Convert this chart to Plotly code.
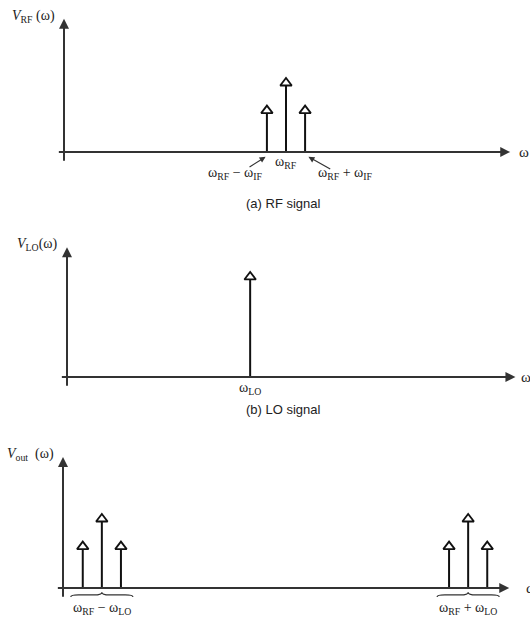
import plotly.graph_objects as go

# ---------------- data (normalised frequency / amplitude units) ----------------
omega_rf = 10.0      # RF carrier
omega_if = 0.86      # IF (sideband offset)
omega_lo = 8.25      # local oscillator

rf_offsets = [-1, 0, 1]            # sidebands in multiples of omega_if
rf_amps = [0.6, 1.0, 0.6]          # relative amplitudes of RF spectral lines
lo_amp = 1.45                      # LO line amplitude
out_amps = [0.6, 1.0, 0.6]         # amplitudes of each mixing product group

rf_labels = ["ω<sub>RF</sub> − ω<sub>IF</sub>", "ω<sub>RF</sub>", "ω<sub>RF</sub> + ω<sub>IF</sub>"]
lo_label = "ω<sub>LO</sub>"
out_labels = ["ω<sub>RF</sub> − ω<sub>LO</sub>", "ω<sub>RF</sub> + ω<sub>LO</sub>"]
y_labels = ["<i>V</i><sub>RF</sub> (ω)", "<i>V</i><sub>LO</sub>(ω)", "<i>V</i><sub>out</sub>  (ω)"]
captions = ["(a) RF signal", "(b) LO signal"]

# ---------------- layout helpers ----------------
W, H = 530, 617
XS, YS = 22.2, 69.0  # px per unit

panels = [  # (band top px, band bottom px, axis y px, origin x px)
    (0, 200, 152, 64),
    (200, 410, 377, 67),
    (410, 617, 588, 63),
]

fig = go.Figure()
layout = dict(width=W, height=H, margin=dict(l=0, r=0, t=0, b=0),
              paper_bgcolor="white", plot_bgcolor="white", showlegend=False)
for i, (top, bot, ay, ox) in enumerate(panels):
    n = "" if i == 0 else str(i + 1)
    layout["xaxis" + n] = dict(range=[-ox / XS, (W - ox) / XS], domain=[0, 1], visible=False,
                               anchor="y" + n, fixedrange=True)
    layout["yaxis" + n] = dict(range=[(ay - bot) / YS, (ay - top) / YS],
                               domain=[1 - bot / H, 1 - top / H], visible=False,
                               anchor="x" + n, fixedrange=True)
fig.update_layout(**layout)

AX_COL = "#333333"
LN_COL = "#111111"
MATH_FONT = dict(family="Liberation Serif", size=14, color="#222")
annotations = []
shapes = []


def spikes(xs, amps, xref, yref):
    sx, sy = [], []
    for x, a in zip(xs, amps):
        sx += [x, x, None]
        sy += [0, a, None]
    fig.add_trace(go.Scatter(x=sx, y=sy, mode="lines", xaxis=xref, yaxis=yref,
                             line=dict(color=LN_COL, width=2), hoverinfo="skip"))
    fig.add_trace(go.Scatter(x=xs, y=amps, mode="markers", xaxis=xref, yaxis=yref,
                             marker=dict(symbol="triangle-up", size=10, color="white",
                                         line=dict(color=LN_COL, width=1.8)),
                             hoverinfo="skip"))


def arrow(xref, yref, x0, y0, x1, y1, width=2, head=2, size=1.0, col=AX_COL):
    annotations.append(dict(x=x1, y=y1, ax=x0, ay=y0, xref=xref, yref=yref,
                            axref=xref, ayref=yref, text="", showarrow=True,
                            arrowhead=head, arrowsize=size, arrowwidth=width,
                            arrowcolor=col, standoff=0, startstandoff=0))


def text(xref, yref, x, y, s, xanchor="center", font=MATH_FONT):
    annotations.append(dict(x=x, y=y, xref=xref, yref=yref, text=s, showarrow=False,
                            xanchor=xanchor, yanchor="middle", font=font))


axis_ends = [(20.1, 1.93), (20.2, 1.88), (20.1, 1.90)]
omega_pos = [20.4, 20.35, 20.77]
omega_font = dict(family="Liberation Serif", size=15, color="#222")
for i, (xe, ye) in enumerate(axis_ends):
    n = "" if i == 0 else str(i + 1)
    xr, yr = "x" + n, "y" + n
    arrow(xr, yr, -0.3, 0, xe, 0)
    arrow(xr, yr, 0, -0.15, 0, ye)
    text(xr, yr, omega_pos[i], 0, "ω", xanchor="left", font=omega_font)
    text(xr, yr, -0.3, ye + 0.04, y_labels[i], xanchor="right")

# panel (a)
rf_x = [omega_rf + k * omega_if for k in rf_offsets]
spikes(rf_x, rf_amps, "x", "y")
text("x", "y", rf_x[1], -0.15, rf_labels[1])
text("x", "y", rf_x[0] - 1.4, -0.31, rf_labels[0])
text("x", "y", rf_x[2] + 1.8, -0.31, rf_labels[2])
arrow("x", "y", rf_x[0] - 0.85, -0.23, rf_x[0] - 0.06, -0.07, width=1.2, size=1.0)
arrow("x", "y", rf_x[2] + 1.2, -0.26, rf_x[2] + 0.15, -0.07, width=1.2, size=1.0)

# panel (b)
spikes([omega_lo], [lo_amp], "x2", "y2")
text("x2", "y2", omega_lo, -0.17, lo_label)

# panel (c)
centres = [omega_rf - omega_lo, omega_rf + omega_lo]
for c, lab in zip(centres, out_labels):
    xs = [c + k * omega_if for k in rf_offsets]
    spikes(xs, out_amps, "x3", "y3")
    hw, q = 1.4, 0.35
    ye, yl, yt = -0.13, -0.10, -0.06
    x0, x1 = c - hw, c + hw
    path = (f"M {x0},{ye} Q {x0},{yl} {x0+q},{yl} L {c-q},{yl} Q {c},{yl} {c},{yt} "
            f"Q {c},{yl} {c+q},{yl} L {x1-q},{yl} Q {x1},{yl} {x1},{ye}")
    shapes.append(dict(type="path", path=path, xref="x3", yref="y3",
                       line=dict(color="#333", width=1.2)))
    text("x3", "y3", c, -0.29, lab)

cap_font = dict(family="Liberation Sans", size=13, color="#222")
for cap, py in zip(captions, [204, 409]):
    annotations.append(dict(x=283 / W, y=1 - py / H, xref="paper", yref="paper", text=cap,
                            showarrow=False, xanchor="center", yanchor="middle", font=cap_font))

fig.update_layout(annotations=annotations, shapes=shapes)
fig.write_html("out.html")
